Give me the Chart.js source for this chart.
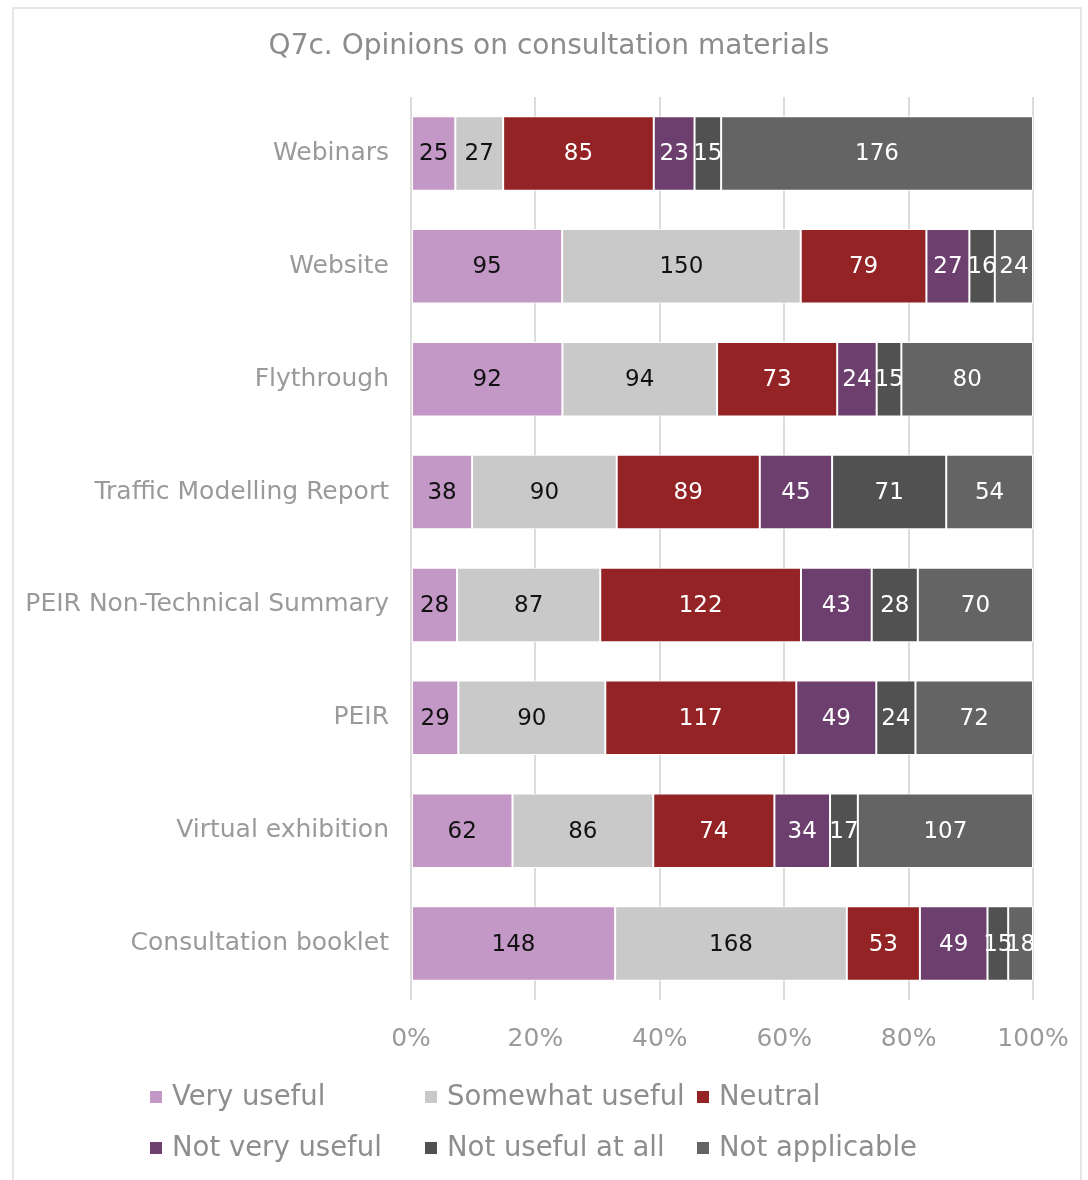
<!DOCTYPE html>
<html>
<head>
<meta charset="utf-8">
<title>Q7c. Opinions on consultation materials</title>
<script src="https://cdn.jsdelivr.net/npm/chart.js@4/dist/chart.umd.min.js"></script>
<style>
  html, body { margin: 0; padding: 0; background: #ffffff; }
  #wrap { position: relative; width: 1088px; height: 1180px; overflow: hidden; }
  #frame { position: absolute; left: 12px; top: 7px; width: 1070px; height: 1200px;
           border: 2px solid #E6E6E6; box-sizing: border-box; }
  #chart { position: absolute; left: 0; top: 0; }
</style>
</head>
<body>
<div id="wrap">
  <div id="frame"></div>
  <canvas id="chart" width="1088" height="1180"></canvas>
</div>
<script>
// Survey materials (rows, top to bottom)
const materials = [
  'Webinars',
  'Website',
  'Flythrough',
  'Traffic Modelling Report',
  'PEIR Non-Technical Summary',
  'PEIR',
  'Virtual exhibition',
  'Consultation booklet'
];

// Response counts per material
const veryUseful      = [25, 95, 92, 38, 28, 29, 62, 148];
const somewhatUseful  = [27, 150, 94, 90, 87, 90, 86, 168];
const neutral         = [85, 79, 73, 89, 122, 117, 74, 53];
const notVeryUseful   = [23, 27, 24, 45, 43, 49, 34, 49];
const notUsefulAtAll  = [15, 16, 15, 71, 28, 24, 17, 15];
const notApplicable   = [176, 24, 80, 54, 70, 72, 107, 18];

const responseNames = ['Very useful', 'Somewhat useful', 'Neutral',
                       'Not very useful', 'Not useful at all', 'Not applicable'];
const percentTicks = ['0%', '20%', '40%', '60%', '80%', '100%'];
const chartTitle = 'Q7c. Opinions on consultation materials';

const FONT = "'DejaVu Sans', sans-serif";
const seriesCounts = [veryUseful, somewhatUseful, neutral, notVeryUseful, notUsefulAtAll, notApplicable];
const seriesColors = ['#C397C6', '#C9C9C9', '#932324', '#6C3F6F', '#515151', '#646464'];
const labelColors  = ['#111111', '#111111', '#FFFFFF', '#FFFFFF', '#FFFFFF', '#FFFFFF'];

// Row totals, used to turn counts into shares of 100%
const rowTotals = materials.map((_, i) => seriesCounts.reduce((s, arr) => s + arr[i], 0));

const datasets = seriesCounts.map((counts, k) => ({
  label: responseNames[k],
  counts: counts,
  data: counts.map((v, i) => v / rowTotals[i] * 100),
  backgroundColor: seriesColors[k],
  borderColor: '#FFFFFF',
  borderWidth: 1,
  borderSkipped: false,
  categoryPercentage: 1,
  barPercentage: 0.66
}));

// Title drawn centred above the plot
const topTitle = {
  id: 'topTitle',
  afterDraw(chart) {
    const ctx = chart.ctx;
    ctx.save();
    ctx.font = '28px ' + FONT;
    ctx.fillStyle = '#8C8C8C';
    ctx.textAlign = 'center';
    ctx.textBaseline = 'middle';
    ctx.fillText(chartTitle, 549, 47);
    ctx.restore();
  }
};

// Count labels centred in each segment
const segmentLabels = {
  id: 'segmentLabels',
  afterDatasetsDraw(chart) {
    const ctx = chart.ctx;
    ctx.save();
    ctx.font = '23px ' + FONT;
    ctx.textAlign = 'center';
    ctx.textBaseline = 'middle';
    chart.data.datasets.forEach((ds, k) => {
      const meta = chart.getDatasetMeta(k);
      ctx.fillStyle = labelColors[k];
      meta.data.forEach((bar, i) => {
        const cx = (bar.x + bar.base) / 2;
        ctx.fillText(String(ds.counts[i]), cx, bar.y + 1);
      });
    });
    ctx.restore();
  }
};

// Two-row legend laid out in fixed columns
const gridLegend = {
  id: 'gridLegend',
  afterDraw(chart) {
    const ctx = chart.ctx;
    const cols = [150, 425, 697];
    const rows = [1097, 1148];
    ctx.save();
    ctx.font = '27.5px ' + FONT;
    ctx.textAlign = 'left';
    ctx.textBaseline = 'middle';
    chart.data.datasets.forEach((ds, k) => {
      const x = cols[k % 3];
      const y = rows[Math.floor(k / 3)];
      ctx.fillStyle = ds.backgroundColor;
      ctx.fillRect(x, y - 6, 12, 12);
      ctx.fillStyle = '#8E8E8E';
      ctx.fillText(ds.label, x + 22, y + 1);
    });
    ctx.restore();
  }
};

new Chart(document.getElementById('chart'), {
  type: 'bar',
  data: { labels: materials, datasets: datasets },
  options: {
    indexAxis: 'y',
    responsive: false,
    animation: false,
    layout: { padding: { left: 0, right: 55, top: 97, bottom: 120 } },
    plugins: {
      legend: { display: false },
      tooltip: { enabled: false },
      title: { display: false }
    },
    scales: {
      x: {
        stacked: true,
        min: 0,
        max: 100,
        afterBuildTicks(scale) {
          scale.ticks = percentTicks.map((_, i) => ({ value: i * 20 }));
        },
        afterFit(scale) {
          scale.height = 60;
          scale.paddingLeft = 0;
          scale.paddingRight = 0;
        },
        ticks: {
          color: '#9A9A9A',
          font: { family: FONT, size: 25 },
          padding: 24,
          callback: (v, i) => percentTicks[i]
        },
        grid: { color: '#DCDCDC', lineWidth: 2, drawTicks: false },
        border: { display: false }
      },
      y: {
        stacked: true,
        afterFit(scale) {
          scale.width = 411;
          scale.paddingTop = 0;
          scale.paddingBottom = 0;
        },
        ticks: {
          color: '#9A9A9A',
          font: { family: FONT, size: 25 },
          padding: 22
        },
        grid: { display: false, drawTicks: false },
        border: { display: false }
      }
    }
  },
  plugins: [segmentLabels, gridLegend, topTitle]
});
</script>
</body>
</html>
